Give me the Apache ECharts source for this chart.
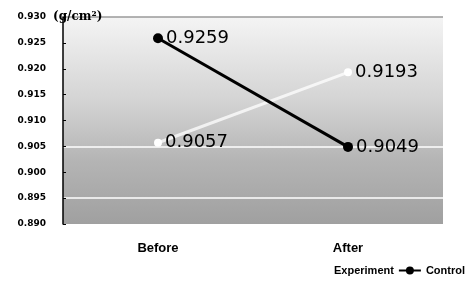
<!DOCTYPE html>
<html>
<head>
<meta charset="utf-8">
<script src="https://cdn.jsdelivr.net/npm/echarts@6/dist/echarts.min.js"></script>
<style>
  html, body { margin: 0; padding: 0; background: #fff; }
  #chart { width: 474px; height: 285px; }
</style>
</head>
<body>
<div id="chart"></div>
<script>
const categories = ['Before', 'After']
const experiment = [0.9057, 0.9193]
const control = [0.9259, 0.9049]
const yTicks = { min: 0.890, max: 0.930, step: 0.005 }

const chart = echarts.init(document.getElementById('chart'))

const labelStyle = {
  show: true,
  position: 'right',
  distance: 3,
  color: '#000',
  fontFamily: 'DejaVu Sans',
  fontSize: 18,
  formatter: p => p.value.toFixed(4)
}

// 只在 0.895 和 0.905 画白线，顶部画灰线
const none = 'rgba(0,0,0,0)'
const splitColors = [none, '#ffffff', none, '#ffffff', none, none, none, none, '#9a9a9a']

chart.setOption({
  animation: false,
  grid: {
    left: 63,
    right: 31,
    top: 17,
    bottom: 61,
    show: true,
    borderWidth: 0,
    backgroundColor: new echarts.graphic.LinearGradient(0, 0, 0, 1, [
      { offset: 0, color: '#f4f4f4' },
      { offset: 0.4, color: '#d4d4d4' },
      { offset: 0.7, color: '#b4b4b4' },
      { offset: 1, color: '#a0a0a0' }
    ])
  },
  legend: {
    right: 4,
    bottom: 4,
    itemWidth: 22,
    itemHeight: 10,
    itemGap: 4,
    textStyle: { fontFamily: 'Liberation Sans', fontWeight: 'bold', fontSize: 11, color: '#000' },
    data: ['Experiment', 'Control']
  },
  xAxis: {
    type: 'category',
    data: categories,
    boundaryGap: true,
    axisLine: { show: false },
    axisTick: { show: false },
    axisLabel: {
      margin: 18,
      color: '#000',
      fontFamily: 'Liberation Sans',
      fontWeight: 'bold',
      fontSize: 13
    }
  },
  yAxis: {
    type: 'value',
    min: yTicks.min,
    max: yTicks.max,
    interval: yTicks.step,
    name: '(g/cm²)',
    nameLocation: 'end',
    nameGap: 0,
    nameTextStyle: {
      align: 'left',
      verticalAlign: 'middle',
      padding: [0, 0, 0, -10],
      fontFamily: 'DejaVu Serif',
      fontWeight: 'bold',
      fontSize: 12,
      color: '#000'
    },
    axisLine: { show: true, lineStyle: { color: '#000', width: 1.5 } },
    axisTick: { show: true, inside: true, length: 3, lineStyle: { color: '#000' } },
    axisLabel: {
      margin: 17,
      color: '#000',
      fontFamily: 'DejaVu Sans',
      fontWeight: 'bold',
      fontSize: 9,
      formatter: v => v.toFixed(3)
    },
    splitLine: { show: true, lineStyle: { color: splitColors, width: 1.5 } }
  },
  series: [
    {
      name: 'Experiment',
      type: 'line',
      data: experiment,
      symbol: 'circle',
      symbolSize: 8,
      itemStyle: { color: '#ffffff' },
      lineStyle: { color: '#ffffff', width: 3, opacity: 0.75 },
      label: labelStyle
    },
    {
      name: 'Control',
      type: 'line',
      data: control,
      symbol: 'circle',
      symbolSize: 10,
      itemStyle: { color: '#000' },
      lineStyle: { color: '#000', width: 3 },
      label: labelStyle
    }
  ]
})
</script>
</body>
</html>
